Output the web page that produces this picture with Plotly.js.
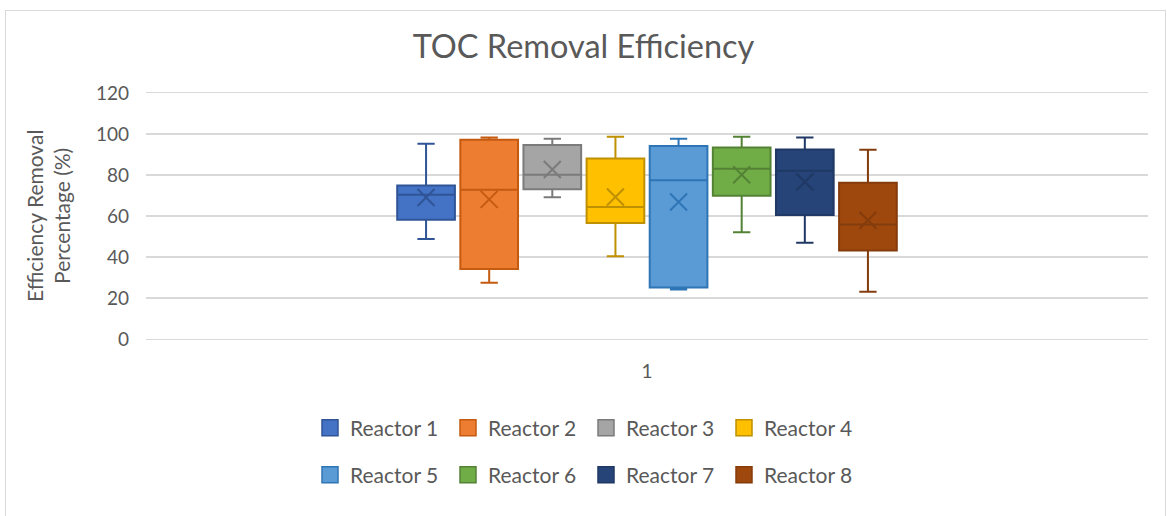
<!DOCTYPE html>
<html>
<head>
<meta charset="utf-8">
<script src="https://cdn.plot.ly/plotly-3.0.1.min.js"></script>
<style>
  html, body { margin: 0; padding: 0; background: #ffffff; }
  #frame { position: absolute; left: 5px; top: 10px; width: 1159px; height: 540px; border: 1px solid #d9d9d9; pointer-events: none; z-index: 5; }
  #chart { position: absolute; left: 0; top: 0; width: 1167px; height: 516px; }
</style>
</head>
<body>
<div id="chart"></div>
<div id="frame"></div>
<script>
// ---- data ----
const category = '1';
const reactors = ['Reactor 1', 'Reactor 2', 'Reactor 3', 'Reactor 4', 'Reactor 5', 'Reactor 6', 'Reactor 7', 'Reactor 8'];
const lowerWhisker = [48.8, 27.4, 69.1, 40.4, 24.2, 52.1, 47.0, 23.0];
const q1Values     = [58.2, 34.1, 73.0, 56.6, 25.1, 69.9, 60.5, 43.2];
const medianValues = [70.4, 72.8, 80.1, 64.4, 77.4, 83.1, 82.1, 55.8];
const q3Values     = [74.9, 97.2, 94.6, 88.1, 94.1, 93.4, 92.5, 76.2];
const upperWhisker = [95.2, 98.3, 97.7, 98.6, 97.7, 98.6, 98.3, 92.3];
const meanValues   = [69.0, 68.1, 82.7, 69.3, 66.8, 80.1, 76.6, 57.9];
const chartTitle = 'TOC Removal Efficiency';
const yTitle = 'Efficiency Removal<br>Percentage (%)';

// ---- styles ----
const fillColors = ['#4472C4', '#ED7D31', '#A5A5A5', '#FFC000', '#5B9BD5', '#70AD47', '#264478', '#9E480E'];
const lineColors = ['#2F5597', '#C55A11', '#7B7B7B', '#BF9000', '#2E75B6', '#548235', '#1F3864', '#843C0C'];
const FONT = 'Lato, "Open Sans", "DejaVu Sans", sans-serif';
const TXT = '#595959';
const GRID = '#d9d9d9';
const GAP = 0.496;

const traces = [];
reactors.forEach((name, i) => {
  traces.push({
    type: 'box',
    name: name,
    x: [category],
    q1: [q1Values[i]],
    median: [medianValues[i]],
    q3: [q3Values[i]],
    lowerfence: [lowerWhisker[i]],
    upperfence: [upperWhisker[i]],
    orientation: 'v',
    boxpoints: false,
    boxmean: false,
    whiskerwidth: 0.3,
    fillcolor: fillColors[i],
    line: { color: lineColors[i], width: 2 },
    offsetgroup: 'g' + i,
    showlegend: false,
    hoverinfo: 'skip'
  });
});
reactors.forEach((name, i) => {
  traces.push({
    type: 'scatter',
    mode: 'markers',
    name: name + ' mean',
    x: [category],
    y: [meanValues[i]],
    offsetgroup: 'g' + i,
    marker: { symbol: 'x-thin', size: 17, color: lineColors[i], line: { color: lineColors[i], width: 2 } },
    showlegend: false,
    hoverinfo: 'skip'
  });
});
reactors.forEach((name, i) => {
  traces.push({
    type: 'scatter',
    mode: 'markers',
    name: name,
    x: [null],
    y: [null],
    offsetgroup: 'g' + i,
    legend: i < 4 ? 'legend' : 'legend2',
    marker: { symbol: 'square', size: 16, color: fillColors[i], line: { color: lineColors[i], width: 1.5 } },
    showlegend: true,
    hoverinfo: 'skip'
  });
});

const legendCommon = {
  orientation: 'h',
  xref: 'container', yref: 'container',
  xanchor: 'left', yanchor: 'middle',
  x: 310 / 1167,
  entrywidth: 93, entrywidthmode: 'pixels',
  font: { family: FONT, size: 21, color: TXT },
  bgcolor: 'rgba(0,0,0,0)',
  traceorder: 'normal'
};

const layout = {
  width: 1167,
  height: 516,
  margin: { l: 146, r: 19, t: 93, b: 177, pad: 0 },
  paper_bgcolor: '#ffffff',
  plot_bgcolor: '#ffffff',
  font: { family: FONT, color: TXT },
  title: {
    text: chartTitle,
    font: { family: FONT, size: 32.5, color: TXT },
    xref: 'container', x: 0.5, xanchor: 'center',
    yref: 'container', y: 1 - 47 / 516, yanchor: 'middle'
  },
  boxmode: 'group',
  boxgap: GAP,
  boxgroupgap: 0.086,
  scattermode: 'group',
  scattergap: GAP,
  xaxis: {
    type: 'category',
    range: [-0.5, 0.5],
    showgrid: false,
    zeroline: false,
    showline: true,
    mirror: true,
    linecolor: GRID,
    linewidth: 1.3,
    ticks: '',
    ticklabelstandoff: 15,
    tickfont: { family: FONT, size: 19, color: TXT }
  },
  yaxis: {
    range: [0, 120],
    dtick: 20,
    tick0: 0,
    showgrid: true,
    gridcolor: GRID,
    gridwidth: 1.3,
    zeroline: false,
    showline: false,
    ticks: '',
    ticklabelstandoff: 16,
    tickfont: { family: FONT, size: 19, color: TXT }
  },
  annotations: [{
    text: yTitle,
    xref: 'paper', yref: 'paper',
    x: -98 / 1002, y: 0.5,
    xanchor: 'center', yanchor: 'middle',
    textangle: -90,
    showarrow: false,
    font: { family: FONT, size: 21, color: TXT }
  }],
  legend: Object.assign({}, legendCommon, { y: 1 - 428 / 516 }),
  legend2: Object.assign({}, legendCommon, { y: 1 - 475 / 516 }),
  hovermode: false
};

Plotly.newPlot('chart', traces, layout, { displayModeBar: false, staticPlot: true });
</script>
</body>
</html>
